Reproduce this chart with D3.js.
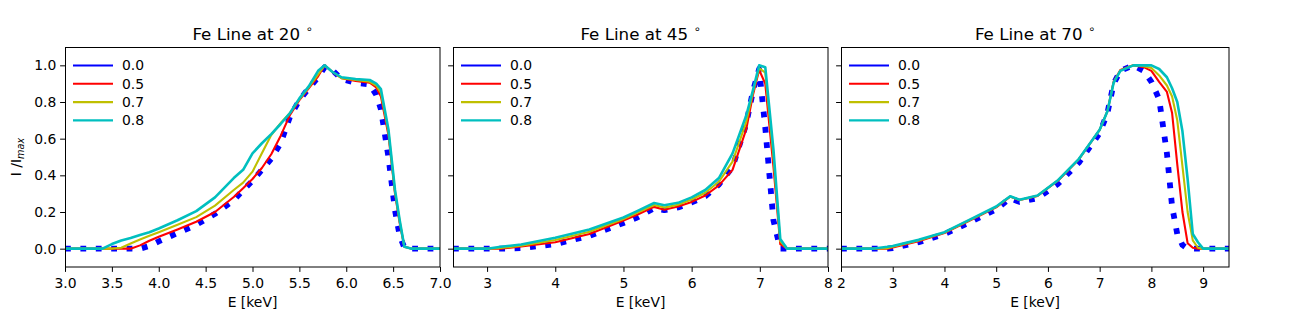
<!DOCTYPE html>
<html>
<head>
<meta charset="utf-8">
<script src="https://cdn.jsdelivr.net/npm/d3@7"></script>
<style>
  body { margin: 0; background: #fff; }
  svg { display: block; }
  text { font-family: "DejaVu Sans", sans-serif; fill: #000; }
</style>
</head>
<body>
<div id="chart"></div>
<script>

// legend labels and line colours
var seriesNames = ["0.0", "0.5", "0.7", "0.8"];
var colors = ["#0000ff", "#ff0000", "#bfbf00", "#00bfbf"];

// --- 20 degrees ---
var e20 = [3.0, 3.2, 3.4, 3.5, 3.6, 3.7, 3.8, 3.9, 4.0, 4.2, 4.4, 4.6, 4.8, 4.9, 5.0, 5.1, 5.2, 5.3, 5.4, 5.5,
           5.6, 5.7, 5.77, 5.85, 5.95, 6.1, 6.25, 6.32, 6.37, 6.45, 6.52, 6.57, 6.62, 6.7, 7.0];
var i20_00 = [0, 0, 0, 0, 0, 0, 0, 0.015, 0.04, 0.085, 0.13, 0.19, 0.264, 0.32, 0.37, 0.43, 0.49, 0.575, 0.72, 0.81,
              0.875, 0.935, 0.99, 0.975, 0.925, 0.905, 0.895, 0.84, 0.76, 0.5, 0.21, 0.07, 0.005, 0, 0];
var i20_05 = [0, 0, 0, 0, 0, 0, 0.018, 0.043, 0.065, 0.105, 0.147, 0.2, 0.282, 0.33, 0.38, 0.44, 0.515, 0.615, 0.73, 0.81,
              0.875, 0.94, 1.0, 0.965, 0.93, 0.915, 0.905, 0.88, 0.83, 0.62, 0.3, 0.14, 0.01, 0, 0];
var i20_07 = [0, 0, 0, 0, 0.005, 0.028, 0.05, 0.07, 0.09, 0.13, 0.172, 0.235, 0.32, 0.36, 0.42, 0.52, 0.62, 0.685, 0.74, 0.815,
              0.88, 0.95, 1.0, 0.965, 0.93, 0.92, 0.91, 0.89, 0.85, 0.64, 0.31, 0.15, 0.01, 0, 0];
var i20_08 = [0, 0, 0, 0.025, 0.045, 0.058, 0.075, 0.09, 0.11, 0.155, 0.205, 0.28, 0.385, 0.43, 0.52, 0.575, 0.625, 0.68, 0.74, 0.82,
              0.885, 0.97, 1.0, 0.965, 0.935, 0.925, 0.92, 0.9, 0.87, 0.65, 0.32, 0.155, 0.01, 0, 0];

// --- 45 degrees ---
var e45 = [2.5, 3.0, 3.2, 3.5, 4.0, 4.5, 5.0, 5.2, 5.45, 5.6, 5.8, 6.0, 6.2, 6.4, 6.6, 6.8, 6.9, 6.99, 7.08, 7.2, 7.3, 7.4, 8.0];
var i45_00 = [0, 0, 0, 0.003, 0.025, 0.07, 0.14, 0.17, 0.22, 0.21, 0.225, 0.252, 0.285, 0.35, 0.445, 0.68, 0.86, 0.98, 0.66, 0.154, 0, 0, 0];
var i45_05 = [0, 0, 0, 0.012, 0.035, 0.08, 0.154, 0.185, 0.228, 0.212, 0.23, 0.255, 0.29, 0.345, 0.43, 0.65, 0.84, 0.975, 0.9, 0.447, 0.025, 0, 0];
var i45_07 = [0, 0, 0.004, 0.016, 0.047, 0.092, 0.162, 0.196, 0.238, 0.224, 0.24, 0.268, 0.305, 0.365, 0.475, 0.69, 0.855, 0.985, 0.96, 0.5, 0.04, 0, 0];
var i45_08 = [0, 0, 0.01, 0.023, 0.06, 0.105, 0.17, 0.205, 0.249, 0.237, 0.25, 0.28, 0.32, 0.385, 0.52, 0.725, 0.865, 1.0, 0.99, 0.54, 0.053, 0, 0];

// --- 70 degrees ---
var e70 = [2.0, 2.6, 2.9, 3.0, 3.5, 4.0, 4.5, 5.0, 5.27, 5.45, 5.8, 6.2, 6.6, 7.0, 7.15, 7.27, 7.4, 7.65, 7.85, 8.0,
           8.15, 8.3, 8.4, 8.5, 8.6, 8.7, 8.8, 8.9, 9.0, 9.5];
var i70_00 = [0, 0, 0, 0.003, 0.035, 0.08, 0.145, 0.215, 0.275, 0.255, 0.275, 0.355, 0.47, 0.63, 0.74, 0.9, 0.97, 1.0, 0.97, 0.91,
              0.815, 0.52, 0.23, 0.08, 0.02, 0, 0, 0, 0, 0];
var i70_05 = [0, 0, 0, 0.007, 0.04, 0.085, 0.155, 0.225, 0.284, 0.265, 0.288, 0.372, 0.488, 0.648, 0.75, 0.91, 0.975, 1.0, 0.99, 0.97,
              0.91, 0.855, 0.74, 0.46, 0.2, 0.03, 0.005, 0, 0, 0];
var i70_07 = [0, 0, 0.003, 0.01, 0.044, 0.088, 0.158, 0.228, 0.285, 0.266, 0.289, 0.374, 0.489, 0.648, 0.75, 0.908, 0.972, 1.0, 0.995, 0.985,
              0.945, 0.89, 0.83, 0.7, 0.45, 0.2, 0.045, 0.005, 0, 0];
var i70_08 = [0, 0, 0.01, 0.015, 0.048, 0.09, 0.16, 0.23, 0.286, 0.267, 0.29, 0.375, 0.49, 0.648, 0.75, 0.905, 0.97, 1.0, 1.0, 1.0,
              0.98, 0.935, 0.875, 0.8, 0.64, 0.38, 0.08, 0.035, 0, 0];

var yTicks = [0.0, 0.2, 0.4, 0.6, 0.8, 1.0];

var panels = [
  { angle: "20", e: e20, series: [i20_00, i20_05, i20_07, i20_08], xdom: [3, 7], xticks: [3, 3.5, 4, 4.5, 5, 5.5, 6, 6.5, 7], fmt: ".1f", left: 65, w: 375 },
  { angle: "45", e: e45, series: [i45_00, i45_05, i45_07, i45_08], xdom: [2.5, 8], xticks: [3, 4, 5, 6, 7, 8], fmt: "d", left: 453, w: 375 },
  { angle: "70", e: e70, series: [i70_00, i70_05, i70_07, i70_08], xdom: [2, 9.5], xticks: [2, 3, 4, 5, 6, 7, 8, 9], fmt: "d", left: 841, w: 388 }
];

var W = 1294, H = 314;
var plotTop = 47, plotH = 220;

var svg = d3.select("#chart").append("svg")
  .attr("width", W)
  .attr("height", H);

var y = d3.scaleLinear().domain([-0.1, 1.1]).range([plotH, 0]);

panels.forEach(function(p, pi) {
  var x = d3.scaleLinear().domain(p.xdom).range([0, p.w]);
  var g = svg.append("g").attr("transform", "translate(" + p.left + "," + plotTop + ")");

  g.append("clipPath").attr("id", "clip" + pi)
    .append("rect").attr("width", p.w).attr("height", plotH);

  var line = d3.line()
    .x(function(d, i) { return x(p.e[i]); })
    .y(function(d) { return y(d); });

  // blue dotted first, others on top
  p.series.forEach(function(s, si) {
    var path = g.append("path")
      .attr("clip-path", "url(#clip" + pi + ")")
      .attr("d", line(s))
      .attr("fill", "none")
      .attr("stroke", colors[si])
      .attr("stroke-linejoin", "round");
    if (si === 0) {
      path.attr("stroke-width", 5.8).attr("stroke-dasharray", "5.8 9.6").attr("stroke-linecap", "butt");
    } else {
      path.attr("stroke-width", si === 3 ? 2.6 : 2.1).attr("stroke-linecap", "square");
    }
  });

  // axes
  var xAxis = d3.axisBottom(x).tickValues(p.xticks).tickSize(4.9).tickPadding(6.2)
    .tickFormat(d3.format(p.fmt));
  var gx = g.append("g").attr("transform", "translate(0," + plotH + ")").call(xAxis);
  gx.select(".domain").remove();
  gx.selectAll("text").attr("font-size", 13.9).attr("font-family", "DejaVu Sans");

  var yAxis = d3.axisLeft(y).tickValues(yTicks).tickSize(4.9).tickPadding(3.8)
    .tickFormat(pi === 0 ? d3.format(".1f") : "");
  var gy = g.append("g").call(yAxis);
  gy.select(".domain").remove();
  gy.selectAll("text").attr("font-size", 13.9).attr("font-family", "DejaVu Sans");

  g.selectAll(".tick line").attr("stroke", "#000").attr("stroke-width", 1);

  g.append("rect")
    .attr("x", 0.5).attr("y", 0.5)
    .attr("width", p.w - 0.5).attr("height", plotH - 0.5)
    .attr("fill", "none").attr("stroke", "#000").attr("stroke-width", 1);

  // title
  var t = g.append("text")
    .attr("x", p.w / 2).attr("y", -7)
    .attr("text-anchor", "middle")
    .attr("font-size", 16.7);
  t.append("tspan").text("Fe Line at " + p.angle + " ");
  t.append("tspan").attr("font-size", 11.5).attr("dy", -7).text("∘");

  // x label
  g.append("text")
    .attr("x", p.w / 2).attr("y", plotH + 40)
    .attr("text-anchor", "middle")
    .attr("font-size", 13.9)
    .text("E [keV]");

  // legend
  var leg = g.append("g");
  seriesNames.forEach(function(n, si) {
    var ly = 18.5 + si * 18.3;
    leg.append("line")
      .attr("x1", 8).attr("x2", 48).attr("y1", ly).attr("y2", ly)
      .attr("stroke", colors[si]).attr("stroke-width", 2.1);
    leg.append("text")
      .attr("x", 57).attr("y", ly)
      .attr("dy", "0.35em")
      .attr("font-size", 13.9)
      .text(n);
  });
});

// y label
var yl = svg.append("text")
  .attr("transform", "translate(20.5," + (plotTop + plotH / 2) + ") rotate(-90)")
  .attr("text-anchor", "middle")
  .attr("font-size", 13.9);
yl.append("tspan").text("I /I");
yl.append("tspan").attr("font-size", 9.7).attr("font-style", "italic").attr("dy", 3).text("max");

</script>
</body>
</html>
